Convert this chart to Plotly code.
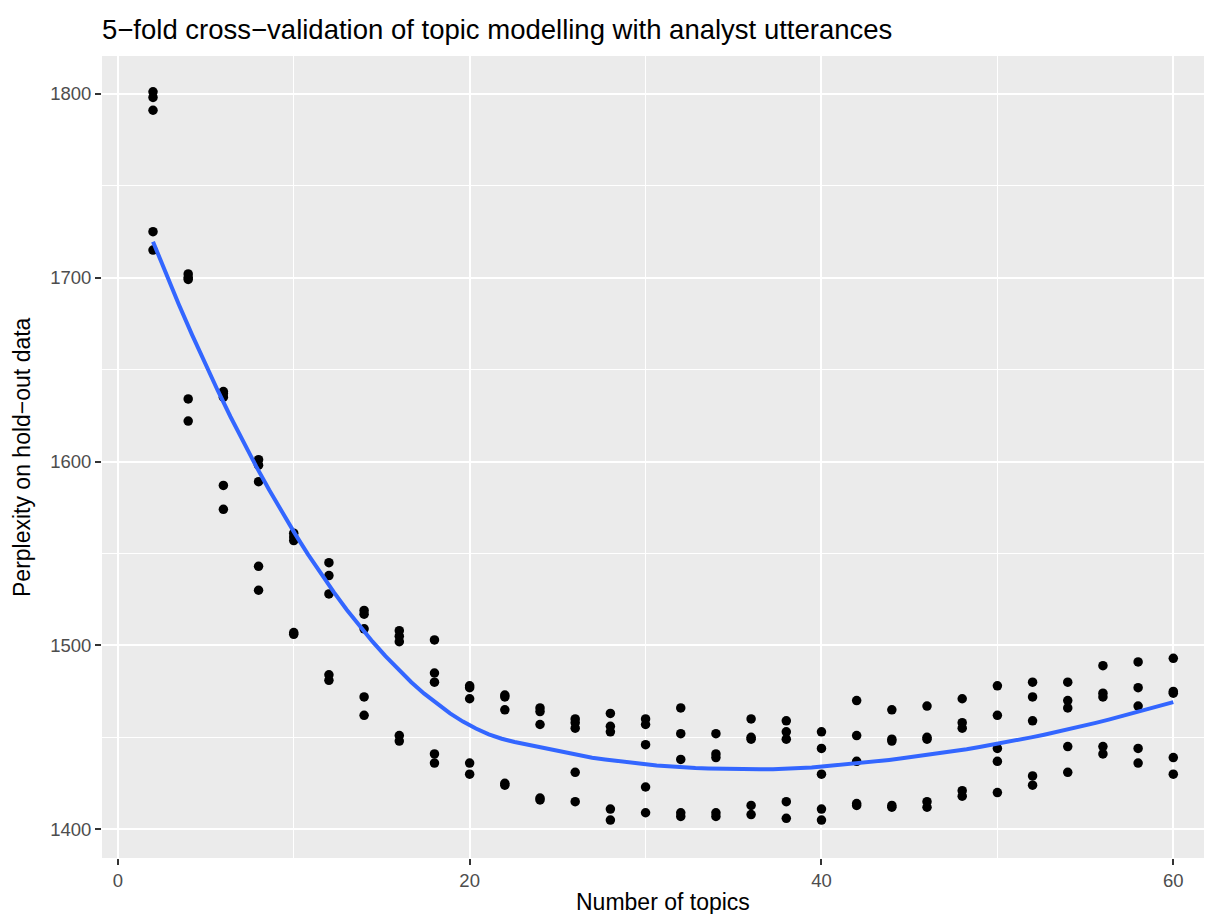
import numpy as np
import plotly.graph_objects as go

# Number of topics (x) and five hold-out perplexity values per topic count
topics = [2, 4, 6, 8, 10, 12, 14, 16, 18, 20, 22, 24, 26, 28, 30,
          32, 34, 36, 38, 40, 42, 44, 46, 48, 50, 52, 54, 56, 58, 60]
perp_1 = [1801, 1702, 1638, 1601, 1561, 1545, 1519, 1508, 1503, 1478, 1473, 1466, 1460, 1463, 1460,
          1466, 1452, 1460, 1459, 1453, 1470, 1465, 1467, 1471, 1478, 1480, 1480, 1489, 1491, 1493]
perp_2 = [1798, 1700, 1637, 1598, 1559, 1538, 1517, 1505, 1485, 1477, 1472, 1464, 1458, 1456, 1457,
          1452, 1441, 1450, 1453, 1444, 1451, 1449, 1450, 1458, 1462, 1472, 1470, 1474, 1477, 1475]
perp_3 = [1791, 1699, 1635, 1589, 1557, 1528, 1509, 1502, 1480, 1471, 1465, 1457, 1455, 1453, 1446,
          1438, 1439, 1449, 1449, 1430, 1437, 1448, 1449, 1455, 1444, 1459, 1466, 1472, 1467, 1474]
perp_4 = [1725, 1634, 1587, 1543, 1507, 1484, 1472, 1451, 1441, 1436, 1425, 1417, 1431, 1411, 1423,
          1409, 1409, 1413, 1415, 1411, 1414, 1413, 1415, 1421, 1437, 1429, 1445, 1445, 1444, 1439]
perp_5 = [1715, 1622, 1574, 1530, 1506, 1481, 1462, 1448, 1436, 1430, 1424, 1416, 1415, 1405, 1409,
          1407, 1407, 1408, 1406, 1405, 1413, 1412, 1412, 1418, 1420, 1424, 1431, 1441, 1436, 1430]

x_ticks = [0, 20, 40, 60]
y_ticks = [1400, 1500, 1600, 1700, 1800]

x = np.array(topics * 5, dtype=float)
y = np.array(perp_1 + perp_2 + perp_3 + perp_4 + perp_5, dtype=float)


def loess(xv, yv, xe, span=0.75):
    n = len(xv)
    q = int(np.floor(n * span))
    out = []
    for x0 in xe:
        d = np.abs(xv - x0)
        h = np.sort(d)[q - 1]
        u = np.clip(d / h, 0, 1)
        w = (1 - u ** 3) ** 3
        X = np.vstack([np.ones_like(xv), xv - x0, (xv - x0) ** 2]).T
        W = np.sqrt(w)
        beta, *_ = np.linalg.lstsq(X * W[:, None], yv * W, rcond=None)
        out.append(beta[0])
    return np.array(out)


xs = np.linspace(min(topics), max(topics), 80)
ys = loess(x, y, xs)

# the page body has an 8px margin, so the figure is sized to fit the window
W, H = 1204, 906

fig = go.Figure()
fig.add_trace(go.Scatter(x=x, y=y, mode="markers",
                         marker=dict(color="black", size=9.5, line=dict(width=0)),
                         showlegend=False, hoverinfo="x+y"))
fig.add_trace(go.Scatter(x=xs, y=ys, mode="lines",
                         line=dict(color="#3366FF", width=4),
                         showlegend=False))

fig.update_layout(
    width=W, height=H,
    margin=dict(l=94, r=0, t=48, b=56),
    paper_bgcolor="white",
    plot_bgcolor="#EBEBEB",
    font=dict(family="Liberation Sans, Arial, sans-serif"),
    title=dict(text="5\u2212fold cross\u2212validation of topic modelling with analyst utterances",
               x=0, xref="paper", xanchor="left",
               y=1 - 21 / H, yref="container", yanchor="middle",
               font=dict(size=27.5, color="black")),
    xaxis=dict(range=[-0.9, 62.2], tickvals=x_ticks, ticktext=[str(t) for t in x_ticks],
               showgrid=True, gridcolor="white", gridwidth=2,
               minor=dict(dtick=10, tick0=0, showgrid=True, gridcolor="white", gridwidth=1),
               ticks="outside", ticklen=6, tickwidth=1.5, tickcolor="#333333",
               tickfont=dict(size=18.5, color="#4D4D4D"),
               zeroline=False, showline=False, automargin=False),
    yaxis=dict(range=[1384.4, 1820.5], tickvals=y_ticks, ticktext=[str(t) for t in y_ticks],
               showgrid=True, gridcolor="white", gridwidth=2,
               minor=dict(dtick=50, tick0=1350, showgrid=True, gridcolor="white", gridwidth=1),
               ticks="outside", ticklen=6, tickwidth=1.5, tickcolor="#333333",
               tickfont=dict(size=18.5, color="#4D4D4D"),
               zeroline=False, showline=False, automargin=False),
    annotations=[
        dict(text="Number of topics", xref="paper", yref="paper", x=(663 - 102) / 1110, y=0,
             xanchor="center", yanchor="middle", yshift=-44, showarrow=False,
             font=dict(size=23, color="black")),
        dict(text="Perplexity on hold\u2212out data", xref="paper", yref="paper", x=0, y=0.5,
             xanchor="center", yanchor="middle", xshift=-80, textangle=-90, showarrow=False,
             font=dict(size=23, color="black")),
    ],
)

fig.write_html("out.html")
